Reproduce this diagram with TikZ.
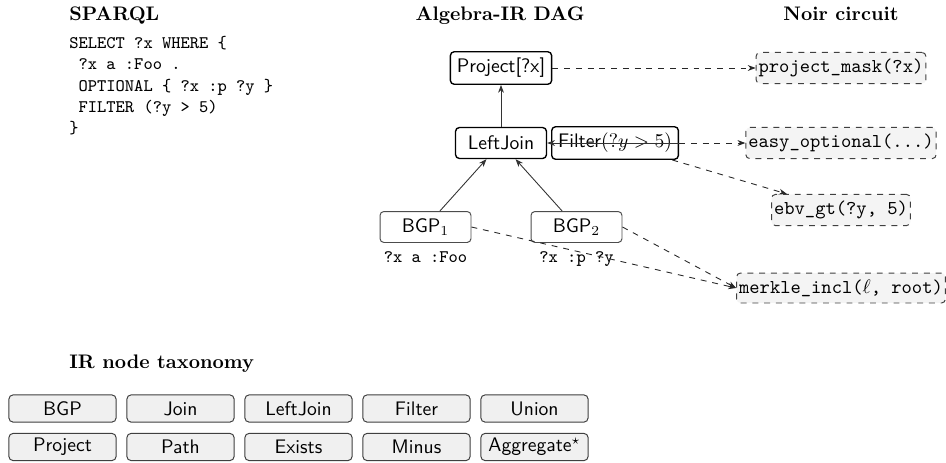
\documentclass[tikz,border=0pt]{standalone}
\usetikzlibrary{arrows.meta}
\begin{document}
\begin{tikzpicture}[x=0.51pt,y=-0.51pt,
  ttl/.style={font=\bfseries, inner sep=0pt},
  codeline/.style={font=\small\ttfamily, anchor=base west, inner sep=0pt},
  lbl/.style={font=\small\ttfamily, anchor=base, inner sep=0pt},
  dag/.style={draw=black, line width=0.7pt, rounded corners=2pt, font=\sffamily,
    minimum width=46.4pt, minimum height=15.8pt, inner sep=3.3pt},
  leaf/.style={dag, draw=black!70, line width=0.5pt},
  circ/.style={draw=black!75, dashed, fill=gray!9, rounded corners=2pt, font=\ttfamily,
    minimum height=15pt, inner xsep=1.3pt, line width=0.5pt},
  tax/.style={draw=black!75, fill=gray!12, rounded corners=2pt, font=\sffamily,
    minimum width=54.6pt, minimum height=13.8pt, inner sep=0pt, line width=0.5pt},
  tip/.style={-{Stealth[length=4pt,width=3pt]}},
  flow/.style={tip, draw=black!80, line width=0.45pt},
  map/.style={tip, draw=black!85, dashed, line width=0.45pt}
]
\useasboundingbox (0,0) rectangle (946,462);

% titles
\node[ttl, anchor=base west] (tsparql) at (69,20.5) {SPARQL};
\node[ttl, anchor=base] (tdag) at (500,20.5) {Algebra-IR DAG};
\node[ttl, anchor=base] (tnoir) at (841,20.5) {Noir circuit};
\node[ttl, anchor=base west] (ttax) at (69,368.5) {IR node taxonomy};

% SPARQL code
\node[codeline] (c1) at (69,48.5) {SELECT ?x WHERE \{};
\node[codeline] (c2) at (69,69.5) {\phantom{x}?x a :Foo .};
\node[codeline] (c3) at (69,91) {\phantom{x}OPTIONAL \{ ?x :p ?y \}};
\node[codeline] (c4) at (69,112) {\phantom{x}FILTER (?y > 5)};
\node[codeline] (c5) at (69,133) {\}};

% DAG
\node[dag] (proj) at (501,68) {Project[?x]};
\node[dag] (lj) at (501,143) {LeftJoin};
\node[dag, anchor=west, minimum width=0pt] (filter) at (551,143) {Filter$(?y>5)$};
\node[leaf] (bgp1) at (425.5,227) {BGP$_1$};
\node[leaf] (bgp2) at (576.5,227) {BGP$_2$};
\node[lbl] (l1) at (425.5,262) {?x a :Foo};
\node[lbl] (l2) at (576.5,262) {?x :p ?y};

% circuit
\node[circ] (pm) at (841,68) {project\_mask(?x)};
\node[circ] (eo) at (841,143) {easy\_optional(...)};
\node[circ] (ebv) at (841,210) {ebv\_gt(?y, 5)};
\node[circ] (mk) at (841,288) {merkle\_incl($\ell$, root)};

% DAG edges
\draw[flow] (lj) -- (proj);
\draw[flow] (bgp1) -- (lj);
\draw[flow] (bgp2) -- (lj);
\draw[flow] ([xshift=2pt]filter.east) -- (lj.east);

% mapping edges
\draw[map] (proj.east) -- (pm.west);
\draw[map] (filter.east) -- (eo.west);
\draw[map] (filter) -- (ebv);
\draw[map] (bgp1.east) -- (mk.west);
\draw[map] (bgp2.east) -- (mk.west);

% taxonomy
\node[tax] (k1) at (62.5,408.5) {BGP};
\node[tax] (k2) at (180.5,408.5) {Join};
\node[tax] (k3) at (298.5,408.5) {LeftJoin};
\node[tax] (k4) at (416.5,408.5) {Filter};
\node[tax] (k5) at (534.5,408.5) {Union};
\node[tax] (k6) at (62.5,447) {Project};
\node[tax] (k7) at (180.5,447) {Path};
\node[tax] (k8) at (298.5,447) {Exists};
\node[tax] (k9) at (416.5,447) {Minus};
\node[tax] (k10) at (534.5,447) {Aggregate$^\star$};
\end{tikzpicture}
\end{document}
